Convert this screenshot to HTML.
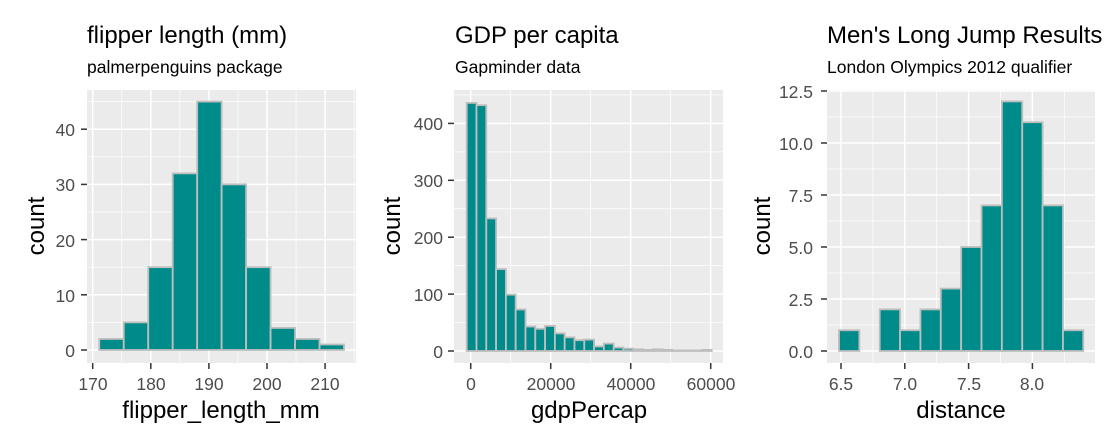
<!DOCTYPE html>
<html><head><meta charset="utf-8"><style>
body{margin:0;background:#fff}
svg{display:block}
text{font-family:"Liberation Sans",sans-serif}
.t{font-size:24px;fill:#000}
.s{font-size:17.5px;fill:#000}
.yl{font-size:17.5px;fill:#4d4d4d;text-anchor:end}
.xl{font-size:17.5px;fill:#4d4d4d;text-anchor:middle}
.at{font-size:24px;fill:#000;text-anchor:middle}
</style></head><body>
<svg id="s" width="1120" height="448" xmlns="http://www.w3.org/2000/svg">
<g id="g"></g>
<text class="t" x="87" y="43">flipper length (mm)</text>
<text class="s" x="87" y="73">palmerpenguins package</text>
<text class="t" x="455" y="43">GDP per capita</text>
<text class="s" x="455" y="73">Gapminder data</text>
<text class="t" x="827" y="43">Men's Long Jump Results</text>
<text class="s" x="827" y="73">London Olympics 2012 qualifier</text>

<text class="yl" x="75" y="357">0</text>
<text class="yl" x="75" y="302">10</text>
<text class="yl" x="75" y="247">20</text>
<text class="yl" x="75" y="191">30</text>
<text class="yl" x="75" y="136">40</text>
<text class="xl" x="93" y="390">170</text>
<text class="xl" x="151" y="390">180</text>
<text class="xl" x="209" y="390">190</text>
<text class="xl" x="267" y="390">200</text>
<text class="xl" x="325" y="390">210</text>
<text class="at" x="221" y="418">flipper_length_mm</text>
<text class="at" transform="translate(44,226) rotate(-90)">count</text>

<text class="yl" x="443" y="358">0</text>
<text class="yl" x="443" y="301">100</text>
<text class="yl" x="443" y="244">200</text>
<text class="yl" x="443" y="187">300</text>
<text class="yl" x="443" y="130">400</text>
<text class="xl" x="471" y="390">0</text>
<text class="xl" x="551" y="390">20000</text>
<text class="xl" x="631" y="390">40000</text>
<text class="xl" x="711" y="390">60000</text>
<text class="at" x="589" y="418">gdpPercap</text>
<text class="at" transform="translate(400,226) rotate(-90)">count</text>

<text class="yl" x="813" y="358">0.0</text>
<text class="yl" x="813" y="306">2.5</text>
<text class="yl" x="813" y="254">5.0</text>
<text class="yl" x="813" y="202">7.5</text>
<text class="yl" x="813" y="150">10.0</text>
<text class="yl" x="813" y="98">12.5</text>
<text class="xl" x="841" y="390">6.5</text>
<text class="xl" x="905" y="390">7.0</text>
<text class="xl" x="969" y="390">7.5</text>
<text class="xl" x="1032" y="390">8.0</text>
<text class="at" x="961" y="418">distance</text>
<text class="at" transform="translate(770,226) rotate(-90)">count</text>
</svg>
<script>
var g=document.getElementById('g'),NS='http://www.w3.org/2000/svg';
function el(n,a){var e=document.createElementNS(NS,n);for(var k in a)e.setAttribute(k,a[k]);g.appendChild(e);return e;}
function panel(p){
 el('rect',{x:p.x0,y:90,width:p.x1-p.x0,height:273,fill:'#ebebeb'});
 var yv=function(v){return p.yb-v*p.ys};var xv=function(v){return p.xa+(v-p.xo)*p.xs};
 p.yminor.forEach(function(v){var y=yv(v);if(y>90)el('line',{x1:p.x0,x2:p.x1,y1:y,y2:y,stroke:'#fff','stroke-width':0.7});});
 p.xminor.forEach(function(v){var x=xv(v);if(x>p.x0&&x<p.x1)el('line',{x1:x,x2:x,y1:90,y2:363,stroke:'#fff','stroke-width':0.7});});
 p.ymajor.forEach(function(v){var y=yv(v);el('line',{x1:p.x0,x2:p.x1,y1:y,y2:y,stroke:'#fff','stroke-width':1.5});el('line',{x1:p.x0-6,x2:p.x0,y1:y,y2:y,stroke:'#333','stroke-width':1.5});});
 p.xmajor.forEach(function(v){var x=xv(v);el('line',{x1:x,x2:x,y1:90,y2:363,stroke:'#fff','stroke-width':1.5});el('line',{x1:x,x2:x,y1:363,y2:369,stroke:'#333','stroke-width':1.5});});
 p.counts.forEach(function(c,i){var l=p.bl+i*p.bw;el('rect',{x:l,y:yv(c),width:p.bw,height:c*p.ys,fill:'#008b8b',stroke:'#bebebe','stroke-width':1.8});});
}
panel({x0:87,x1:356,yb:350,ys:5.52,xa:92.7,xo:170,xs:5.81,
 ymajor:[0,10,20,30,40],yminor:[5,15,25,35,45],xmajor:[170,180,190,200,210],xminor:[175,185,195,205,215],
 bl:99.3,bw:24.47,counts:[2,5,15,32,45,30,15,4,2,1]});
panel({x0:454,x1:723,yb:351,ys:0.569,xa:470.7,xo:0,xs:0.004,
 ymajor:[0,100,200,300,400],yminor:[50,150,250,350,450],xmajor:[0,20000,40000,60000],xminor:[10000,30000,50000],
 bl:466.7,bw:9.8,counts:[436,432,233,144,99,73,43,39,44,31,24,19,20,8,13,6,4,3,2,3,2,1,1,1,2]});
panel({x0:827,x1:1095,yb:351,ys:20.8,xa:841,xo:6.5,xs:127.6,
 ymajor:[0,2.5,5,7.5,10,12.5],yminor:[1.25,3.75,6.25,8.75,11.25],xmajor:[6.5,7,7.5,8],xminor:[6.25,6.75,7.25,7.75,8.25],
 bl:839,bw:20.36,counts:[1,0,2,1,2,3,5,7,12,11,7,1]});
</script>
</body></html>
